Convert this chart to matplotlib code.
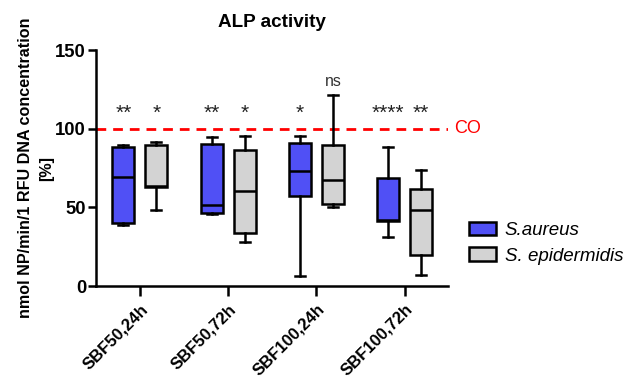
import matplotlib.pyplot as plt
import matplotlib.patches as mpatches

plt.rcParams['font.family'] = ['Liberation Sans', 'DejaVu Sans']

groups = ['SBF50,24h', 'SBF50,72h', 'SBF100,24h', 'SBF100,72h']

# box stats: whisker low, q1, median, q3, whisker high
aureus_lo = [39.0, 45.8, 6.4, 31.0]
aureus_q1 = [39.9, 46.6, 57.4, 41.5]
aureus_med = [69.3, 51.3, 73.3, 41.8]
aureus_q3 = [88.2, 90.1, 90.7, 68.9]
aureus_hi = [89.4, 94.9, 95.6, 88.6]

epi_lo = [48.1, 28.0, 50.2, 7.0]
epi_q1 = [63.1, 33.7, 51.9, 19.7]
epi_med = [63.8, 60.4, 67.6, 48.1]
epi_q3 = [89.4, 86.5, 89.4, 61.7]
epi_hi = [91.7, 95.2, 121.2, 73.7]

aureus_sig = ['**', '**', '*', '****']
epi_sig = ['*', '*', 'ns', '**']

control = 100

blue = '#5050f5'
grey = '#d3d3d3'


def make_stats(lo, q1, med, q3, hi):
    return [{'whislo': a, 'q1': b, 'med': c, 'q3': d, 'whishi': e, 'fliers': []}
            for a, b, c, d, e in zip(lo, q1, med, q3, hi)]


fig = plt.figure(figsize=(6.3, 3.8), dpi=100)
ax = fig.add_axes([0.152, 0.247, 0.559, 0.621])

off = 0.1875
w = 0.25
pos = list(range(len(groups)))

line = dict(color='black', linewidth=1.8)
for stats, color, d in [(make_stats(aureus_lo, aureus_q1, aureus_med, aureus_q3, aureus_hi), blue, -off),
                        (make_stats(epi_lo, epi_q1, epi_med, epi_q3, epi_hi), grey, off)]:
    ax.bxp(stats, positions=[p + d for p in pos], widths=w, patch_artist=True,
           showfliers=False,
           boxprops=dict(facecolor=color, edgecolor='black', linewidth=1.8),
           medianprops=line, whiskerprops=line, capprops=line,
           capwidths=w * 0.45)

# significance marks
for i in pos:
    ax.text(i - off, 110, aureus_sig[i], ha='center', va='center', fontsize=15, color='#222222')
    if epi_sig[i] == 'ns':
        ax.text(i + off, 130, epi_sig[i], ha='center', va='center', fontsize=11.5, color='#333333')
    else:
        ax.text(i + off, 110, epi_sig[i], ha='center', va='center', fontsize=15, color='#222222')

ax.axhline(control, color='red', linestyle=(0, (3.5, 2.5)), linewidth=2, zorder=0.5)
ax.text(3.56, control, 'CO', color='red', ha='left', va='center', fontsize=13, clip_on=False)

ax.set_xlim(-0.5, 3.49)
ax.set_ylim(0, 150)
ax.set_yticks([0, 50, 100, 150])
ax.set_xticks(pos)
ax.set_xticklabels(groups, rotation=45, ha='right', rotation_mode='anchor', fontweight='bold', fontsize=12)
for lbl in ax.get_yticklabels():
    lbl.set_fontweight('bold')
    lbl.set_fontsize(13.3)
ax.tick_params(axis='both', width=1.8, length=6, direction='out')
ax.tick_params(axis='y', pad=1)
ax.tick_params(axis='x', length=7, pad=4)
for s in ['top', 'right']:
    ax.spines[s].set_visible(False)
for s in ['left', 'bottom']:
    ax.spines[s].set_linewidth(1.8)

ax.set_title('ALP activity', fontweight='bold', fontsize=13.6, pad=17)
ax.set_ylabel('nmol NP/min/1 RFU DNA concentration\n[%]', fontweight='bold', fontsize=11.6,
              labelpad=1, linespacing=1.5)

handles = [mpatches.Patch(facecolor=blue, edgecolor='black', linewidth=1.8, label='S.aureus'),
           mpatches.Patch(facecolor=grey, edgecolor='black', linewidth=1.8, label='S. epidermidis')]
leg = fig.legend(handles=handles, loc='center left', bbox_to_anchor=(0.718, 0.36), frameon=False,
                 prop={'style': 'italic', 'size': 13.5}, handlelength=1.45, handleheight=0.75,
                 handletextpad=0.45, labelspacing=0.45)

fig.savefig('out.png', dpi=100)
